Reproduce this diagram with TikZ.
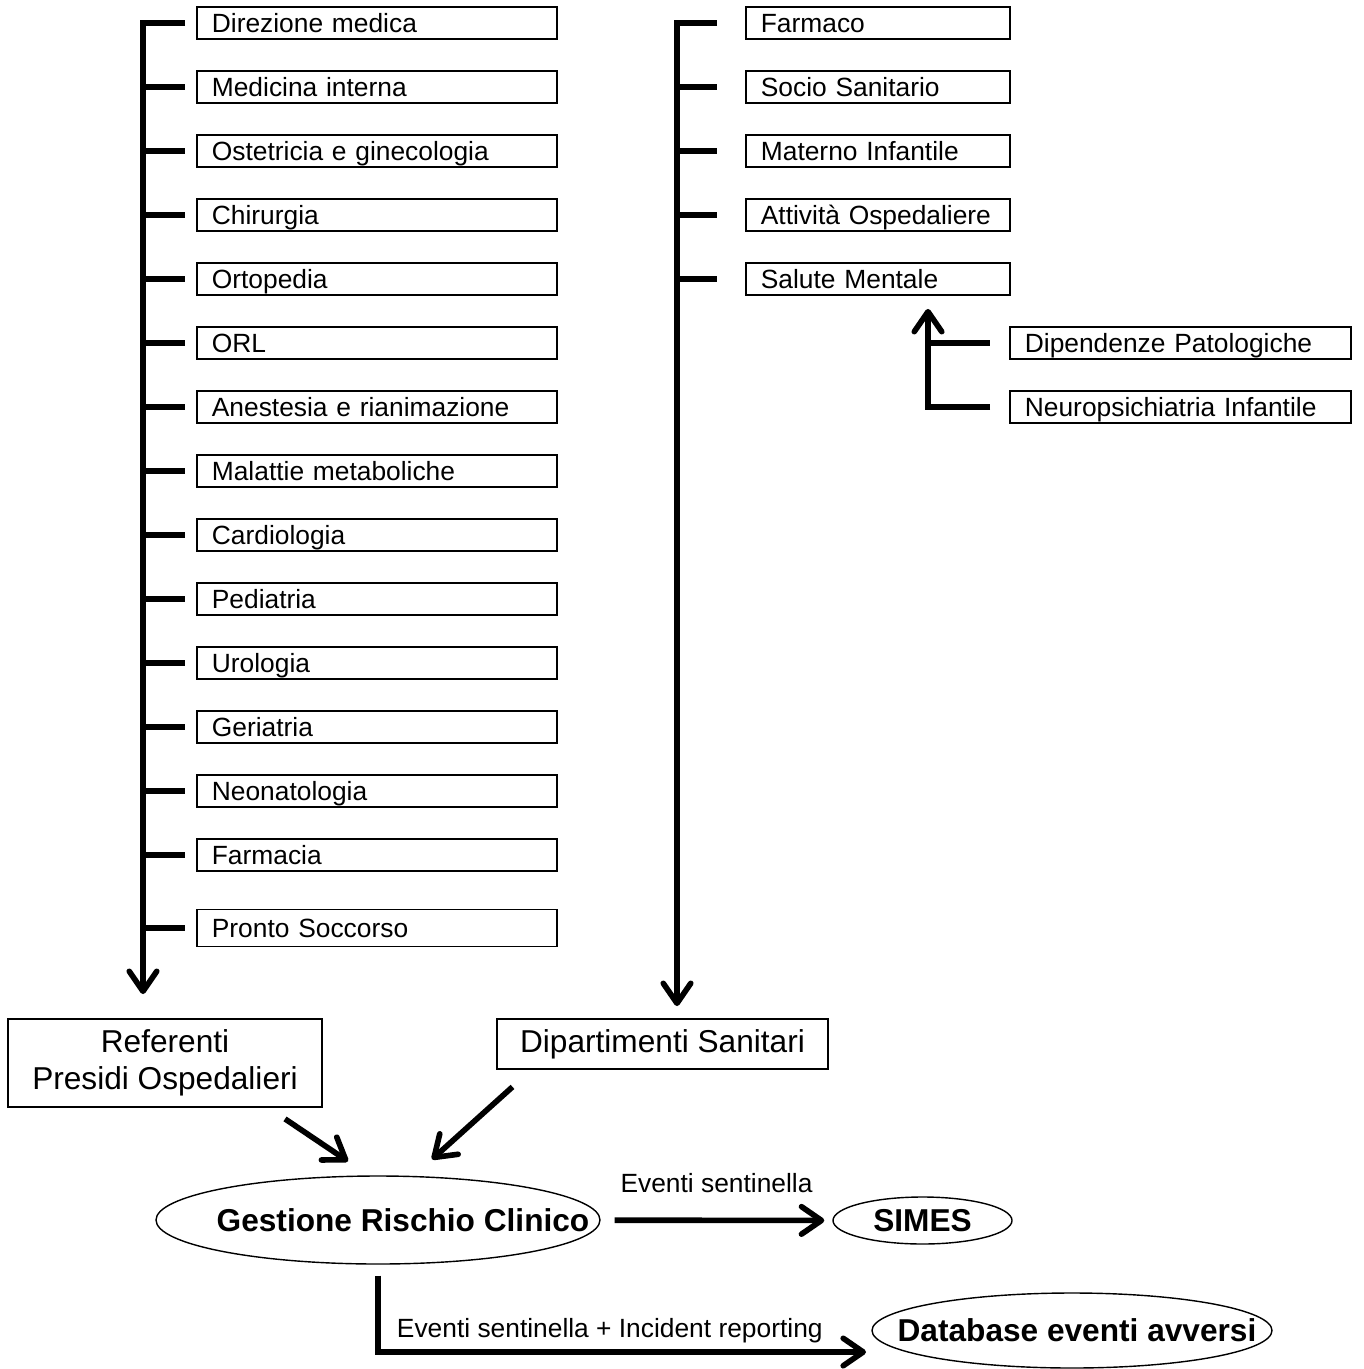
\documentclass[tikz,border=0pt]{standalone}
\usepackage{fontspec}
\setmainfont{Liberation Sans}
\usetikzlibrary{arrows.meta,shapes.geometric,calc}

\begin{document}
\begin{tikzpicture}[x=0.2mm, y=-0.2mm,
  unit/.style={draw=black, line width=1pt, anchor=west, align=left,
    inner xsep=3mm, inner ysep=0pt, minimum height=6.4mm,
    text height=12pt, text depth=1.3pt,
    font=\fontsize{15}{18}\selectfont},
  leftunit/.style={unit, text width=66mm},
  rightunit/.style={unit, text width=46.8mm},
  subunit/.style={unit, text width=62.2mm},
  office/.style={draw=black, line width=1pt, align=center,
    font=\fontsize{18}{21}\selectfont},
  target/.style={ellipse, draw=black, line width=0.8pt,
    inner xsep=-12mm, inner ysep=0pt, font=\bfseries\fontsize{18}{21}\selectfont},
  flow/.style={draw=black, line width=3.2pt,
    -{Straight Barb[length=4mm, width=5.5mm, round]}},
  branch/.style={draw=black, line width=3.2pt, shorten >=#1},
  branch/.default=2.2mm,
  flowtext/.style={font=\fontsize{15}{18}\selectfont, inner sep=0pt},
]
\useasboundingbox (0,0) rectangle (1363,1369);

% hospital units, left column
\node[leftunit] (dir)  at (196, 23) {Direzione medica};
\node[leftunit] (med)  at (196, 87) {Medicina interna};
\node[leftunit] (ost)  at (196,151) {Ostetricia e ginecologia};
\node[leftunit] (chi)  at (196,215) {Chirurgia};
\node[leftunit] (ort)  at (196,279) {Ortopedia};
\node[leftunit] (orl)  at (196,343) {ORL};
\node[leftunit] (ane)  at (196,407) {Anestesia e rianimazione};
\node[leftunit] (mal)  at (196,471) {Malattie metaboliche};
\node[leftunit] (car)  at (196,535) {Cardiologia};
\node[leftunit] (ped)  at (196,599) {Pediatria};
\node[leftunit] (uro)  at (196,663) {Urologia};
\node[leftunit] (ger)  at (196,727) {Geriatria};
\node[leftunit] (neo)  at (196,791) {Neonatologia};
\node[leftunit] (fcia) at (196,855) {Farmacia};
\node[leftunit, minimum height=7.4mm] (ps) at (196,928) {Pronto Soccorso};

% departments, right column
\node[rightunit] (farm) at (745, 23) {Farmaco};
\node[rightunit] (soc)  at (745, 87) {Socio Sanitario};
\node[rightunit] (mat)  at (745,151) {Materno Infantile};
\node[rightunit] (att)  at (745,215) {Attività Ospedaliere};
\node[rightunit] (sal)  at (745,279) {Salute Mentale};
\node[subunit]   (dip)  at (1009,343) {Dipendenze Patologiche};
\node[subunit]   (npi)  at (1009,407) {Neuropsichiatria Infantile};

\node[office, minimum width=62.8mm, minimum height=17.6mm] (ref) at (165,1063)
  {Referenti\\Presidi Ospedalieri};
\node[office, minimum width=66.2mm, minimum height=10mm] (dsan) at (662.5,1044)
  {Dipartimenti Sanitari};

\node[target, minimum width=88.8mm, minimum height=17.6mm] (grc) at (378,1220)
  {\hspace*{10mm}Gestione Rischio Clinico};
\node[target, inner xsep=0pt, minimum width=35.8mm, minimum height=9.4mm] (simes)
  at (922.5,1220.5) {SIMES};
\node[target, minimum width=80mm, minimum height=15mm] (db) at (1072,1330.5)
  {\hspace*{2mm}Database eventi avversi};

\coordinate (lspine) at (143,23);
\coordinate (rspine) at (677,23);
\coordinate (sspine) at (928,343);
\coordinate (dbin)   at (866,1352);

% left spine and its branches
\draw[flow, shorten <=2.2mm, shorten >=4.8mm] (dir.west) -- (lspine) -- (lspine |- ref.north);
\draw[branch] (med.west -| lspine)  -- (med.west);
\draw[branch] (ost.west -| lspine)  -- (ost.west);
\draw[branch] (chi.west -| lspine)  -- (chi.west);
\draw[branch] (ort.west -| lspine)  -- (ort.west);
\draw[branch] (orl.west -| lspine)  -- (orl.west);
\draw[branch] (ane.west -| lspine)  -- (ane.west);
\draw[branch] (mal.west -| lspine)  -- (mal.west);
\draw[branch] (car.west -| lspine)  -- (car.west);
\draw[branch] (ped.west -| lspine)  -- (ped.west);
\draw[branch] (uro.west -| lspine)  -- (uro.west);
\draw[branch] (ger.west -| lspine)  -- (ger.west);
\draw[branch] (neo.west -| lspine)  -- (neo.west);
\draw[branch] (fcia.west -| lspine) -- (fcia.west);
\draw[branch] (ps.west -| lspine)   -- (ps.west);

% right spine
\draw[flow, shorten <=5.6mm, shorten >=2.4mm] (farm.west) -- (rspine) -- (rspine |- dsan.north);
\draw[branch=5.6mm] (soc.west -| rspine) -- (soc.west);
\draw[branch=5.6mm] (mat.west -| rspine) -- (mat.west);
\draw[branch=5.6mm] (att.west -| rspine) -- (att.west);
\draw[branch=5.6mm] (sal.west -| rspine) -- (sal.west);

% Salute Mentale sub-units
\draw[flow, shorten <=3.8mm, shorten >=2.6mm] (npi.west) -- (npi.west -| sspine) -- (sspine |- sal.south);
\draw[branch=3.8mm] (dip.west -| sspine) -- (dip.west);

% towards risk management
\draw[flow] ($(ref.south)+(120,11)$) -- ($(grc.north)+(-30,-14)$);
\draw[flow] ($(dsan.south)+(-150,17)$) -- ($(grc.north)+(54,-16)$);
\draw[flow, shorten <=2.8mm, shorten >=1.6mm] (grc) --
  node[flowtext, above=4.9mm] {Eventi sentinella} (simes);
\draw[flow, shorten <=2.2mm] (grc.south) -- (grc.south |- dbin) --
  node[flowtext, above=1.2mm, pos=0.475] {Eventi sentinella + Incident reporting} (dbin);
\end{tikzpicture}
\end{document}
